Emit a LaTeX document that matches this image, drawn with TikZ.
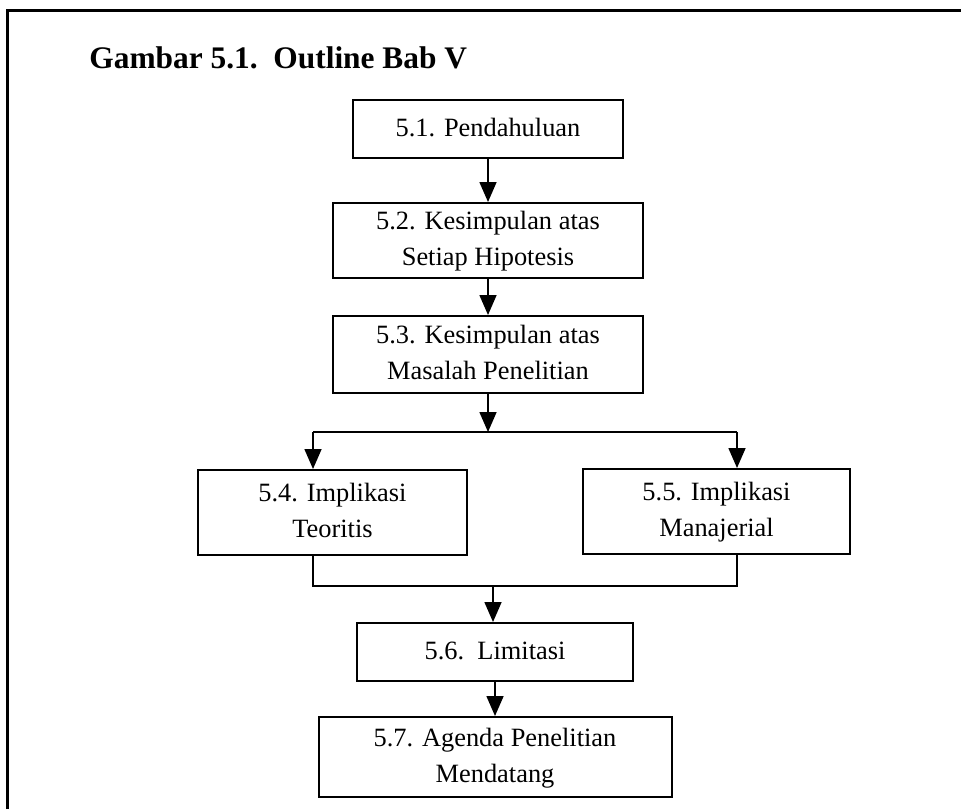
\documentclass[tikz,border=0pt]{standalone}
\usepackage{fontspec}
\setmainfont{Liberation Serif}
\usepackage{tikz}
\usetikzlibrary{arrows.meta}
\newcommand{\boxfont}{\fontsize{13.2}{18}\selectfont}
\newcommand{\titlefont}{\fontsize{15.7}{19}\selectfont\bfseries}
\tikzstyle{block} = [rectangle, draw, line width=1pt, align=center,
                     inner sep=0pt, font=\boxfont]
\tikzstyle{line} = [draw, line width=0.8pt, -{Triangle[length=10pt,width=8.5pt]}]
\tikzstyle{wire} = [draw, line width=0.8pt]

\begin{document}
\begin{tikzpicture}[x=0.5pt, y=-0.5pt]
\useasboundingbox (0,0) rectangle (961,809);
%Frame
\draw[line width=1.5pt] (7,809) -- (7,10) -- (961,10);
\node[anchor=base west, font=\titlefont, inner sep=0pt] (title) at (89,68) {Gambar 5.1.\ \ Outline Bab V};

%Boxes
\node[block, minimum width=135pt, minimum height=29pt] at (488,129) (pend){\strut 5.1. Pendahuluan};
\node[block, minimum width=155pt, minimum height=37.5pt] at (488,240.5) (hipo){\strut 5.2. Kesimpulan atas\\Setiap Hipotesis\strut};
\node[block, minimum width=155pt, minimum height=38.5pt] at (488,354.5) (masalah){\strut 5.3. Kesimpulan atas\\Masalah Penelitian\strut};
\node[block, minimum width=134.5pt, minimum height=42.5pt] at (332.5,512.5) (teori){\strut 5.4. Implikasi\\Teoritis\strut};
\node[block, minimum width=133.5pt, minimum height=42.5pt] at (716.5,511.5) (manaj){\strut 5.5. Implikasi\\Manajerial\strut};
\node[block, minimum width=138pt, minimum height=29pt] at (495,652) (limit){\strut 5.6.\ \ Limitasi};
\node[block, minimum width=176.5pt, minimum height=40pt] at (495,757) (agenda){\strut 5.7. Agenda Penelitian\\Mendatang\strut};

%Split and join
\coordinate (split) at (488,432);
\coordinate (splitL) at (313,432);
\coordinate (splitR) at (737,432);
\coordinate (joinL) at (313,586);
\coordinate (joinR) at (737,586);
\coordinate (join) at (493,586);

%Arrows
\draw[line] (pend) -- (hipo);
\draw[line] (hipo) -- (masalah);
\draw[line] (masalah) -- (split);
\draw[wire] (splitL) -- (splitR);
\draw[line] (splitL) -- (splitL |- teori.north);
\draw[line] (splitR) -- (splitR |- manaj.north);
\draw[wire] (joinL |- teori.south) -- (joinL) -- (joinR) -- (joinR |- manaj.south);
\draw[line] (join) -- (join |- limit.north);
\draw[line] (limit) -- (agenda);
\end{tikzpicture}
\end{document}
